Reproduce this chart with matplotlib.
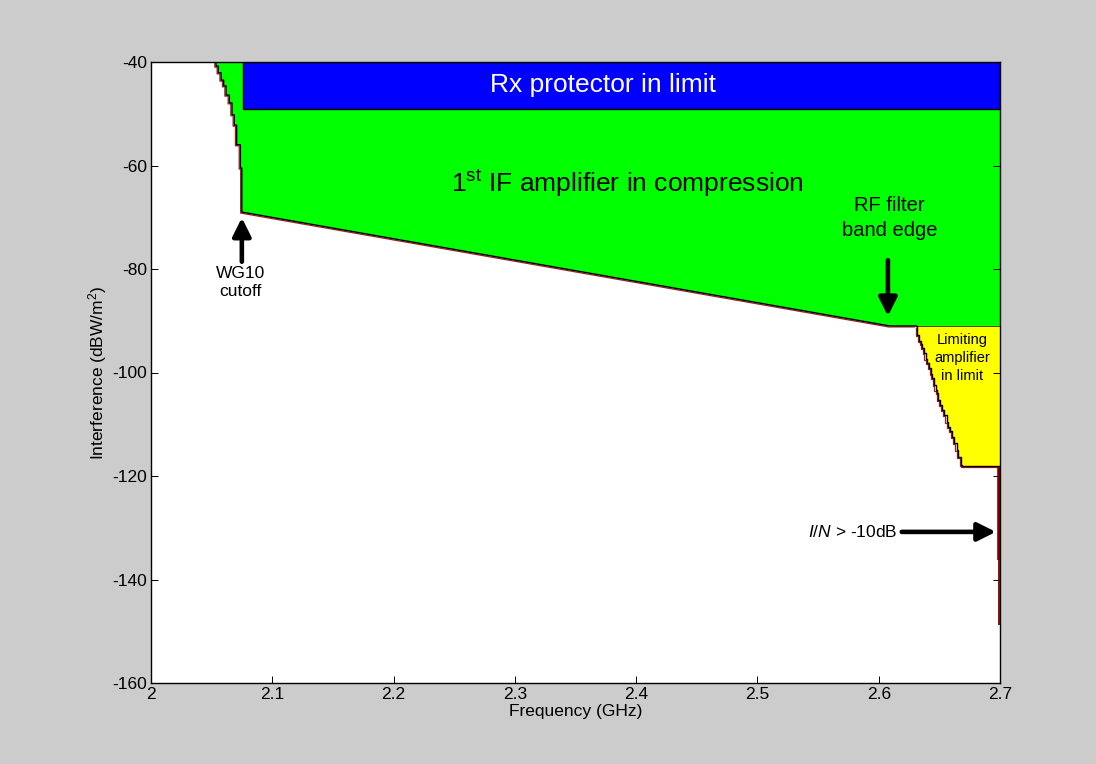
import matplotlib.pyplot as plt
import matplotlib.transforms as mtransforms
import numpy as np

plt.rcParams["font.family"] = ["Liberation Sans", "DejaVu Sans"]
plt.rcParams["mathtext.fontset"] = "custom"
plt.rcParams["mathtext.rm"] = "Liberation Sans"
plt.rcParams["mathtext.it"] = "Liberation Sans:italic"
plt.rcParams["axes.unicode_minus"] = False

# WG10 cutoff staircase: vertical drop at each frequency, from level[k] to level[k+1]
wg_freq = [2.0536, 2.0555, 2.0578, 2.0599, 2.0619, 2.0646, 2.0668, 2.0687, 2.0706, 2.0737, 2.0749]
wg_level = [-40.0, -40.8, -42.1, -43.5, -44.6, -46.4, -47.9, -50.2, -52.2, -56.0, -60.5, -69.0]

# 1st IF compression threshold between the cutoff and the RF filter band edge
if_freq = [2.0749, 2.609, 2.631]
if_level = [-69.0, -91.0, -91.0]

# RF filter skirt staircase down to the limiting amplifier threshold
rf_freq = [2.6315, 2.6334, 2.6348, 2.6359, 2.6373, 2.6387, 2.6400, 2.6414, 2.6430,
           2.6441, 2.6455, 2.6469, 2.6482, 2.6491, 2.6504, 2.6523, 2.6540, 2.6560,
           2.6573, 2.6587, 2.6606, 2.6622, 2.6642, 2.6655, 2.6678, 2.6688]
rf_level = [-91.0, -92.8, -93.9, -94.5, -95.3, -96.3, -97.3, -98.2, -99.2, -100.2,
            -101.1, -102.4, -103.4, -104.0, -105.3, -106.3, -107.2, -108.2, -109.5,
            -110.5, -111.4, -112.4, -113.7, -115.0, -116.3, -117.9, -118.0]

f_max = 2.7
rx_limit = -49.0          # Rx protector threshold
lim_level = -118.0        # limiting amplifier threshold
in_thick = [-118.0, -136.2]   # I/N > -10dB band at the top edge
in_thin = [-136.2, -148.8]

x_ticks = [2, 2.1, 2.2, 2.3, 2.4, 2.5, 2.6, 2.7]
x_labels = ["2", "2.1", "2.2", "2.3", "2.4", "2.5", "2.6", "2.7"]
y_ticks = [-160, -140, -120, -100, -80, -60, -40]


def stairs(freq, level):
    xs, ys = [], []
    for k, f in enumerate(freq):
        xs += [f, f]
        ys += [level[k], level[k + 1]]
    return xs, ys


fig = plt.figure(figsize=(10.96, 7.64), dpi=100, facecolor="#CCCCCC")
ax = fig.add_axes([151 / 1096, 1 - 683 / 764, 849 / 1096, 621 / 764])
ax.set_facecolor("white")

wg_x, wg_y = stairs(wg_freq, wg_level)
rf_x, rf_y = stairs(rf_freq, rf_level)

# green: 1st IF amplifier in compression
gx = wg_x + if_freq[1:] + [f_max, f_max]
gy = wg_y + if_level[1:] + [-91.0, -40.0]
ax.fill(gx, gy, color="#00FF00", lw=0, zorder=1)

# blue: Rx protector in limit
ax.fill([wg_freq[-1] + 0.001, f_max, f_max, wg_freq[-1] + 0.001],
        [rx_limit, rx_limit, -40, -40], color="#0000FF", ec="black", lw=1.0, zorder=2)

# yellow: limiting amplifier in limit
yx = rf_x + [f_max, f_max]
yy = rf_y + [lim_level, -91.0]
ax.fill(yx, yy, color="#FFFF00", lw=0, zorder=1)

# boundary lines with a dark red fringe on the lower side
shadow = mtransforms.offset_copy(ax.transData, fig=fig, x=-1.2, y=-1.0, units="dots")
bx = wg_x + if_freq[1:]
by = wg_y + if_level[1:]
for xs, ys in [(bx, by), (rf_x + [f_max], rf_y + [lim_level])]:
    ax.plot(xs, ys, color="#A02020", lw=0.9, transform=shadow, zorder=3, solid_capstyle="butt")
    ax.plot(xs, ys, color="black", lw=1.0, zorder=4)
ax.plot([if_freq[-1], f_max], [-91.0, -91.0], color="black", lw=0.5, zorder=4)

# I/N > -10dB sliver at the band edge
ax.plot([f_max - 0.0012] * 2, in_thick, color="#800000", lw=2.6, zorder=3, solid_capstyle="butt")
ax.plot([f_max - 0.0008] * 2, in_thin, color="#800000", lw=1.3, zorder=3, solid_capstyle="butt")

ax.set_xlim(2, f_max)
ax.set_ylim(-160, -40)
ax.set_xticks(x_ticks, labels=x_labels)
ax.set_yticks(y_ticks)
ax.tick_params(direction="in", top=True, right=True, length=5, width=0.7,
               labelsize=12.5, colors="black", pad=3)
for s in ax.spines.values():
    s.set_linewidth(1.0)
    s.set_zorder(6)
ax.set_xlabel("Frequency (GHz)", fontsize=12.5, labelpad=1)
ax.set_ylabel(r"Interference (dBW/m$^{\mathrm{2}}$)", fontsize=12.5, labelpad=2)

# region labels
ax.text(2.3726, -44.4, "Rx protector in limit", color="white", fontsize=19,
        ha="center", va="center", zorder=5)
ax.text(2.393, -63.4, r"1$^{\mathrm{st}}$ IF amplifier in compression", fontsize=19,
        ha="center", va="center", zorder=5)
ax.text(2.609, -70.1, "RF filter\nband edge", fontsize=14.5, ha="center", va="center",
        linespacing=1.4, zorder=5)
ax.text(2.0735, -82.6, "WG10\ncutoff", fontsize=12.5, ha="center", va="center",
        linespacing=1.3, zorder=5)
ax.text(2.6686, -97.2, "Limiting\namplifier\nin limit", fontsize=10.5, ha="center",
        va="center", linespacing=1.35, zorder=5)
ax.text(2.615, -130.8, r"$\mathit{I/N}$ > -10dB", fontsize=12.5, ha="right",
        va="center", zorder=5)

arrow = dict(arrowstyle="-|>,head_length=1.1,head_width=0.55", color="black", lw=3.3,
             mutation_scale=10, shrinkA=0, shrinkB=0)
ax.annotate("", xy=(2.0749, -70.1), xytext=(2.0749, -78.6), arrowprops=arrow, zorder=5)
ax.annotate("", xy=(2.6076, -89.1), xytext=(2.6076, -78.3), arrowprops=arrow, zorder=5)
ax.annotate("", xy=(2.6966, -130.8), xytext=(2.619, -130.8), arrowprops=arrow, zorder=5)

fig.savefig("out.png", dpi=100, facecolor=fig.get_facecolor())
